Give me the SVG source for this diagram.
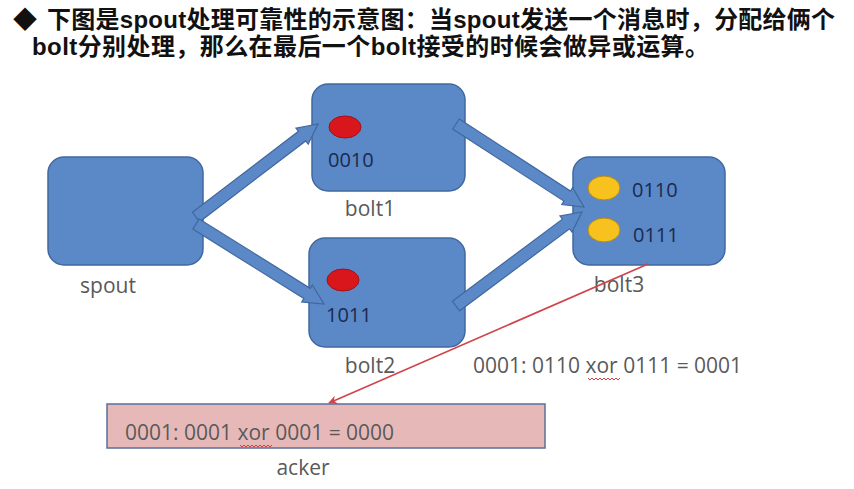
<svg xmlns="http://www.w3.org/2000/svg" width="854" height="489" viewBox="0 0 854 489">
<defs>
<style>
.hdr{font-family:"Liberation Sans","Noto Sans CJK SC",sans-serif;font-weight:bold;font-size:24px;fill:#111111}
.box{fill:#5b88c6;stroke:#41689f;stroke-width:1.5}
.arrow{fill:#5b88c6;stroke:#41689f;stroke-width:1.2;stroke-linejoin:miter}
.lbl{font-family:"Open Sans","Liberation Sans",sans-serif;font-size:21px;fill:#595959;text-anchor:middle}
.num{font-family:"Open Sans","Liberation Sans",sans-serif;font-size:20px;fill:#1a2a4f}
.eq{font-family:"Open Sans","Liberation Sans",sans-serif;font-size:21px;fill:#595959}
.red{fill:#d8161c;stroke:#a01218;stroke-width:1}
.yel{fill:#f7c21e;stroke:#b08a1c;stroke-width:1}
.squig{fill:none;stroke:#d04040;stroke-width:1}
</style>
<marker id="redhead" viewBox="0 0 10 10" refX="9" refY="5" markerWidth="11" markerHeight="9" orient="auto" markerUnits="userSpaceOnUse">
<path d="M0,0 L10,5 L0,10 L3,5 Z" fill="#d0454a"/>
</marker>
</defs>
<rect width="854" height="489" fill="#ffffff"/>
<g id="header">
<text class="hdr" x="13" y="28">◆</text>
<text class="hdr" x="47" y="28" textLength="788" lengthAdjust="spacing">下图是spout处理可靠性的示意图：当spout发送一个消息时，分配给俩个</text>
<text class="hdr" x="32" y="55" textLength="677" lengthAdjust="spacing">bolt分别处理，那么在最后一个bolt接受的时候会做异或运算。</text>
</g>
<g id="spout">
<rect class="box" x="48" y="157" width="155" height="108" rx="16"/>
<text class="lbl" x="108" y="293">spout</text>
</g>
<g id="bolt1">
<rect class="box" x="312" y="84" width="153" height="107" rx="16"/>
<ellipse class="red" cx="345" cy="127" rx="16" ry="11"/>
<text class="num" x="328" y="167">0010</text>
<text class="lbl" x="370" y="216">bolt1</text>
</g>
<g id="bolt2">
<rect class="box" x="309" y="238" width="156" height="109" rx="16"/>
<ellipse class="red" cx="343" cy="280" rx="16" ry="11"/>
<text class="num" x="326" y="322">1011</text>
<text class="lbl" x="370" y="373">bolt2</text>
</g>
<g id="bolt3">
<rect class="box" x="573" y="157" width="152" height="108" rx="16"/>
<ellipse class="yel" cx="604" cy="188" rx="16" ry="12"/>
<ellipse class="yel" cx="604" cy="230" rx="16" ry="12"/>
<text class="num" x="632" y="197">0110</text>
<text class="num" x="633" y="242">0111</text>
<text class="lbl" x="619" y="292">bolt3</text>
</g>
<g id="bolt3-note">
<text class="eq" x="473" y="373">0001: 0110 xor 0111 = 0001</text>
<path class="squig" d="M588,378 l2,2 l2,-2 l2,2 l2,-2 l2,2 l2,-2 l2,2 l2,-2 l2,2 l2,-2 l2,2 l2,-2 l2,2 l2,-2 l2,2 l2,-2"/>
</g>
<g id="acker">
<rect x="107" y="404" width="438" height="44" fill="#e6b9b8" stroke="#5b6f99" stroke-width="1.5"/>
<text class="eq" x="125" y="440">0001: 0001 xor 0001 = 0000</text>
<path class="squig" d="M240,445 l2,2 l2,-2 l2,2 l2,-2 l2,2 l2,-2 l2,2 l2,-2 l2,2 l2,-2 l2,2 l2,-2 l2,2 l2,-2 l2,2 l2,-2"/>
<text class="lbl" x="303" y="475">acker</text>
</g>
<g id="connectors">
<polygon class="arrow" points="192.4,212.2 298.5,131.3 296.0,128.2 318,124 308.2,144.1 305.7,140.9 199.6,221.8"/>
<polygon class="arrow" points="199.2,218.9 310.2,288.3 312.3,284.9 324,304 301.7,301.9 303.8,298.5 192.8,229.1"/>
<polygon class="arrow" points="459.3,119.0 570.5,191.1 572.6,187.7 584,207 561.8,204.5 563.9,201.1 452.7,129.0"/>
<polygon class="arrow" points="452.4,301.2 562.4,219.2 560.0,216.0 582,212 572.0,232.0 569.6,228.8 459.6,310.8"/>
<line x1="648" y1="264" x2="329" y2="403" stroke="#d0454a" stroke-width="1.7" marker-end="url(#redhead)"/>
</g>
</svg>
